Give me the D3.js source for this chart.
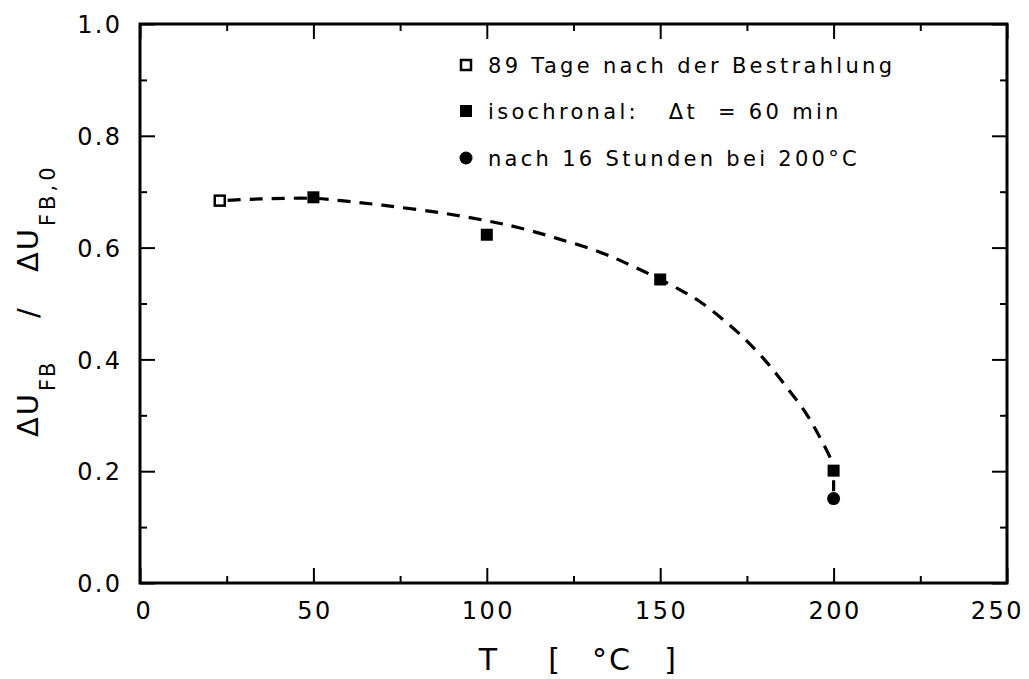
<!DOCTYPE html>
<html>
<head>
<meta charset="utf-8">
<script src="https://cdn.jsdelivr.net/npm/d3@7/dist/d3.min.js"></script>
<style>
  html, body { margin: 0; padding: 0; background: #fff; }
  svg { display: block; font-family: "DejaVu Sans", sans-serif; }
  text { white-space: pre; }
</style>
</head>
<body>
<svg id="chart" width="1029" height="679"></svg>
<script>
// ---- data ----
const openT = [23];
const openV = [0.684];
const isoT = [50, 100, 150, 200];
const isoV = [0.690, 0.623, 0.543, 0.201];
const circT = [200];
const circV = [0.151];
// dashed guide curve
const curveT = [23, 35, 50, 58, 71, 87, 100, 109, 120, 133, 142, 150, 157, 162, 168, 174, 180, 186, 192, 196, 199.4, 200];
const curveV = [0.684, 0.687, 0.688, 0.684, 0.675, 0.662, 0.648, 0.636, 0.617, 0.591, 0.567, 0.543, 0.520, 0.501, 0.472, 0.439, 0.400, 0.354, 0.304, 0.261, 0.218, 0.200];
const tailT = [200, 200];
const tailV = [0.200, 0.151];
const xTicks = [0, 50, 100, 150, 200, 250];
const xMinor = [25, 75, 125, 175, 225];
const yTicks = [0, 0.2, 0.4, 0.6, 0.8, 1.0];
const yMinor = [0.1, 0.3, 0.5, 0.7, 0.9];
const legendLabels = ["89 Tage nach der Bestrahlung", "isochronal:   \u0394t  = 60 min", "nach 16 Stunden bei 200\u00B0C"];

// ---- layout ----
const L = 140, R = 1007, T = 24, B = 583;
const svg = d3.select("#chart");
const x = d3.scaleLinear().domain([0, 250]).range([L, R]);
const y = d3.scaleLinear().domain([0, 1]).range([B, T]);

function axisStyle(g) {
  g.select(".domain").remove();
  g.selectAll(".tick line").attr("stroke", "#000").attr("stroke-width", 2);
}
// bottom
svg.append("g").attr("transform", `translate(0,${B})`)
  .call(d3.axisBottom(x).tickValues(xTicks).tickSizeInner(-15).tickSizeOuter(0).tickPadding(0).tickFormat(d3.format("d")))
  .call(axisStyle)
  .call(g => g.selectAll(".tick text").attr("y", 36).attr("dy", null).attr("font-size", 24)
    .attr("fill", "#000").attr("font-family", "DejaVu Sans").attr("letter-spacing", 2.5)
    .attr("dx", d => d === 0 ? 4 : 1)
    .attr("text-anchor", d => d === 250 ? "end" : "middle")
    .attr("x", d => d === 250 ? 15.5 : 0));
svg.append("g").attr("transform", `translate(0,${B})`)
  .call(d3.axisBottom(x).tickValues(xMinor).tickSizeInner(-7).tickSizeOuter(0).tickFormat(""))
  .call(axisStyle);
// top
svg.append("g").attr("transform", `translate(0,${T})`)
  .call(d3.axisTop(x).tickValues(xTicks).tickSizeInner(-15).tickSizeOuter(0).tickFormat(""))
  .call(axisStyle);
svg.append("g").attr("transform", `translate(0,${T})`)
  .call(d3.axisTop(x).tickValues(xMinor).tickSizeInner(-7).tickSizeOuter(0).tickFormat(""))
  .call(axisStyle);
// left
svg.append("g").attr("transform", `translate(${L},0)`)
  .call(d3.axisLeft(y).tickValues(yTicks).tickSizeInner(-15).tickSizeOuter(0).tickPadding(0).tickFormat(d3.format(".1f")))
  .call(axisStyle)
  .call(g => g.selectAll(".tick text").attr("x", -17.5).attr("dy", "0.36em").attr("font-size", 24)
    .attr("fill", "#000").attr("font-family", "DejaVu Sans").attr("letter-spacing", 2.4));
svg.append("g").attr("transform", `translate(${L},0)`)
  .call(d3.axisLeft(y).tickValues(yMinor).tickSizeInner(-7).tickSizeOuter(0).tickFormat(""))
  .call(axisStyle);
// right
svg.append("g").attr("transform", `translate(${R},0)`)
  .call(d3.axisRight(y).tickValues(yTicks).tickSizeInner(-15).tickSizeOuter(0).tickFormat(""))
  .call(axisStyle);
svg.append("g").attr("transform", `translate(${R},0)`)
  .call(d3.axisRight(y).tickValues(yMinor).tickSizeInner(-7).tickSizeOuter(0).tickFormat(""))
  .call(axisStyle);

// frame
svg.append("rect").attr("x", L).attr("y", T).attr("width", R - L).attr("height", B - T)
  .attr("fill", "none").attr("stroke", "#000").attr("stroke-width", 3);

// dashed curve
const line = d3.line().x(d => x(d[0])).y(d => y(d[1])).curve(d3.curveCatmullRom.alpha(0.5));
svg.append("path").datum(curveT.map((t, i) => [t, curveV[i]]))
  .attr("d", line).attr("fill", "none").attr("stroke", "#000").attr("stroke-width", 3.2)
  .attr("stroke-dasharray", "13,9").attr("stroke-dashoffset", -8);
svg.append("path").datum(tailT.map((t, i) => [t, tailV[i]]))
  .attr("d", d3.line().x(d => x(d[0])).y(d => y(d[1])))
  .attr("fill", "none").attr("stroke", "#000").attr("stroke-width", 3.2)
  .attr("stroke-dasharray", "0,9,11,100");

// markers
const S = 12;
svg.selectAll(".open").data(openT.map((t, i) => [t, openV[i]])).enter().append("rect")
  .attr("x", d => x(d[0]) - S / 2 + 1).attr("y", d => y(d[1]) - S / 2 + 1)
  .attr("width", S - 2).attr("height", S - 2)
  .attr("fill", "#fff").attr("stroke", "#000").attr("stroke-width", 2.5);
svg.selectAll(".iso").data(isoT.map((t, i) => [t, isoV[i]])).enter().append("rect")
  .attr("x", d => x(d[0]) - S / 2).attr("y", d => y(d[1]) - S / 2)
  .attr("width", S).attr("height", S).attr("fill", "#000");
svg.selectAll(".circ").data(circT.map((t, i) => [t, circV[i]])).enter().append("circle")
  .attr("cx", d => x(d[0])).attr("cy", d => y(d[1])).attr("r", 6.5).attr("fill", "#000");

// legend
const lgX = 466, lgY = [65, 111, 158];
const lg = svg.append("g");
lg.append("rect").attr("x", lgX - 5).attr("y", lgY[0] - 5).attr("width", 10).attr("height", 10)
  .attr("fill", "#fff").attr("stroke", "#000").attr("stroke-width", 2.5);
lg.append("rect").attr("x", lgX - 6).attr("y", lgY[1] - 6).attr("width", 12).attr("height", 12).attr("fill", "#000");
lg.append("circle").attr("cx", lgX).attr("cy", lgY[2]).attr("r", 6.5).attr("fill", "#000");
legendLabels.forEach((t, i) => {
  lg.append("text").attr("x", 488).attr("y", lgY[i] + 7.5).attr("font-size", 21)
    .attr("letter-spacing", 3.3).attr("fill", "#000").text(t);
});

// x title
const xt = svg.append("text").attr("y", 670).attr("text-anchor", "middle")
  .attr("font-size", 30).attr("fill", "#000").attr("letter-spacing", 2);
xt.append("tspan").attr("x", 489).text("T");
xt.append("tspan").attr("x", 555).text("[");
xt.append("tspan").attr("x", 612).text("\u00B0C");
xt.append("tspan").attr("x", 671).text("]");

// y title (rotated; tspan x = -screen y)
const yt = svg.append("text").attr("transform", "translate(38,0) rotate(-90)")
  .attr("font-size", 29).attr("fill", "#000").attr("letter-spacing", 2);
yt.append("tspan").attr("x", -437).attr("y", 0).text("\u0394U");
yt.append("tspan").attr("x", -391).attr("y", 17).attr("font-size", 21).text("FB");
yt.append("tspan").attr("x", -318).attr("y", 0).text("/");
yt.append("tspan").attr("x", -272).attr("y", 0).text("\u0394U");
yt.append("tspan").attr("x", -226).attr("y", 17).attr("font-size", 21).attr("letter-spacing", 4).text("FB,0");
</script>
</body>
</html>
